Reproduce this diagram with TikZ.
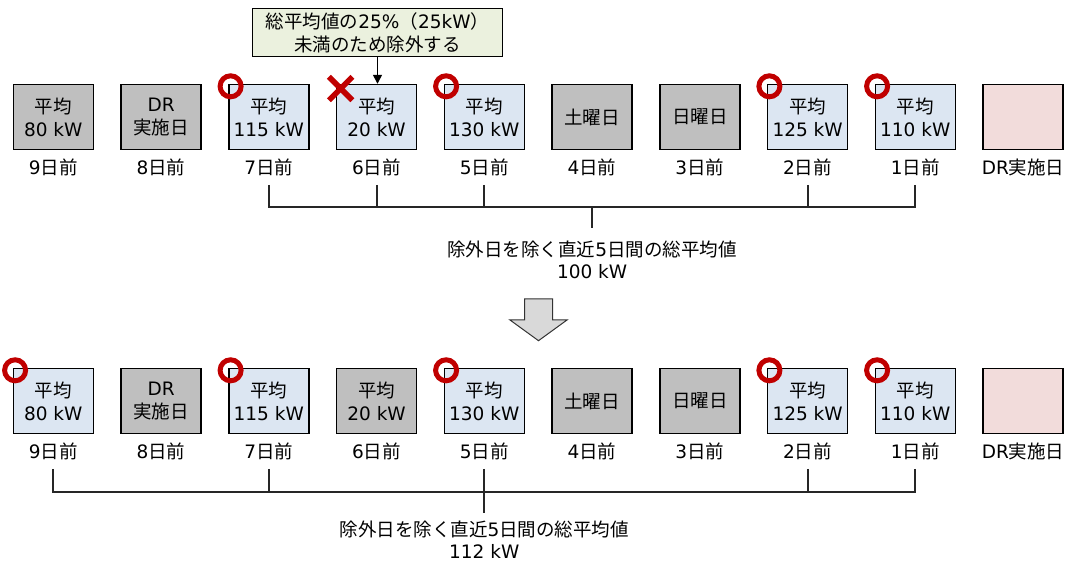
\documentclass[tikz,border=0pt]{standalone}
\usepackage{fontspec}
\setmainfont{DejaVu Sans}
\newfontfamily\jp{Noto Sans CJK JP}
\usepackage{tikz}
\usetikzlibrary{arrows.meta}
\definecolor{usedblue}{HTML}{DCE6F2}
\definecolor{skipgray}{HTML}{BFBFBF}
\definecolor{drpink}{HTML}{F2DCDB}
\definecolor{notefill}{HTML}{EBF1DE}
\definecolor{markred}{HTML}{C00000}
\definecolor{arrowgray}{HTML}{D9D9D9}
\newcommand{\daysize}{\fontsize{18.5}{23}\selectfont}

\begin{document}
\begin{tikzpicture}[x=1pt, y=1pt,
  daybox/.style={draw=black, line width=1.4pt, minimum width=80pt, minimum height=65pt, inner sep=0pt, align=center, font=\daysize},
  usedday/.style={daybox, fill=usedblue},
  skipday/.style={daybox, fill=skipgray},
  drday/.style={daybox, fill=drpink},
  daylabel/.style={font=\daysize, inner sep=0pt},
  sumtext/.style={font=\fontsize{18.5}{22}\selectfont\jp, inner sep=0pt, align=center, anchor=north},
  notebox/.style={draw=black, line width=1.4pt, fill=notefill, minimum width=250pt, minimum height=48pt, inner sep=0pt, align=center, font=\daysize\jp},
  bracket/.style={draw=black!85, line width=2pt},
  okmark/.style={draw=markred, line width=5pt},
  ngmark/.style={draw=markred, line width=5.5pt},
  downarrow/.style={fill=arrowgray, draw=black!80, line width=1pt, line join=miter}]
  \useasboundingbox (0,0) rectangle (1072,564);
  % before: days with the low day removed
  \node[skipday] (t9) at (53.3,447) {{\jp 平均}\\80 kW};
  \node[skipday] (t8) at (161.1,447) {DR\\{\jp 実施日}};
  \node[usedday] (t7) at (268.8,447) {{\jp 平均}\\115 kW};
  \node[usedday] (t6) at (376.6,447) {{\jp 平均}\\20 kW};
  \node[usedday] (t5) at (484.3,447) {{\jp 平均}\\130 kW};
  \node[skipday] (t4) at (592.1,447) {\jp 土曜日};
  \node[skipday] (t3) at (699.8,447) {\jp 日曜日};
  \node[usedday] (t2) at (807.6,447) {{\jp 平均}\\125 kW};
  \node[usedday] (t1) at (915.3,447) {{\jp 平均}\\110 kW};
  \node[drday] (t0) at (1023.1,447) {};
  \node[daylabel] (t9l) at ([yshift=-17pt]t9.south) {9{\jp 日前}};
  \node[daylabel] (t8l) at ([yshift=-17pt]t8.south) {8{\jp 日前}};
  \node[daylabel] (t7l) at ([yshift=-17pt]t7.south) {7{\jp 日前}};
  \node[daylabel] (t6l) at ([yshift=-17pt]t6.south) {6{\jp 日前}};
  \node[daylabel] (t5l) at ([yshift=-17pt]t5.south) {5{\jp 日前}};
  \node[daylabel] (t4l) at ([yshift=-17pt]t4.south) {4{\jp 日前}};
  \node[daylabel] (t3l) at ([yshift=-17pt]t3.south) {3{\jp 日前}};
  \node[daylabel] (t2l) at ([yshift=-17pt]t2.south) {2{\jp 日前}};
  \node[daylabel] (t1l) at ([yshift=-17pt]t1.south) {1{\jp 日前}};
  \node[daylabel] (t0l) at ([yshift=-17pt]t0.south) {DR{\jp 実施日}};
  \draw[okmark] ([shift={(2.5,-2.5)}]t7.north west) circle[radius=10.5pt];
  \draw[okmark] ([shift={(2.5,-2.5)}]t5.north west) circle[radius=10.5pt];
  \draw[okmark] ([shift={(2.5,-2.5)}]t2.north west) circle[radius=10.5pt];
  \draw[okmark] ([shift={(2.5,-2.5)}]t1.north west) circle[radius=10.5pt];
  \draw[ngmark] ([shift={(-7,7)}]t6.north west) -- ([shift={(16.5,-16.5)}]t6.north west);
  \draw[ngmark] ([shift={(-7,-16.5)}]t6.north west) -- ([shift={(16.5,7)}]t6.north west);
  \node[notebox] (note) at (377.5,531.5) {{\jp 総平均値の}{\rmfamily 25\%}（{\rmfamily 25kW}）\\未満のため除外する};
  \draw[line width=1.4pt, -{Triangle[length=9pt,width=9pt]}] (note.south) -- (note.south |- t6.north);
  \coordinate (tbar) at (592.1,357.3);
  \draw[bracket] ([yshift=-9pt]t7l.south) |- (tbar);
  \draw[bracket] ([yshift=-9pt]t1l.south) |- (tbar);
  \draw[bracket] ([yshift=-9pt]t6l.south) -- (t6l |- tbar);
  \draw[bracket] ([yshift=-9pt]t5l.south) -- (t5l |- tbar);
  \draw[bracket] ([yshift=-9pt]t2l.south) -- (t2l |- tbar);
  \node[sumtext] (tsum) at (592.1,323) {除外日を除く直近{\rmfamily 5}日間の総平均値\\{\rmfamily 100 kW}};
  \draw[bracket] (tbar) -- ([yshift=13pt]tsum.north);
  % shift down
  \draw[downarrow] (524.5,265) -- (552.5,265) -- (552.5,244) -- (567,244) -- (538.5,223.3) -- (510,244) -- (524.5,244) -- cycle;
  % after: five earliest valid days
  \node[usedday] (b9) at (53.3,163) {{\jp 平均}\\80 kW};
  \node[skipday] (b8) at (161.1,163) {DR\\{\jp 実施日}};
  \node[usedday] (b7) at (268.8,163) {{\jp 平均}\\115 kW};
  \node[skipday] (b6) at (376.6,163) {{\jp 平均}\\20 kW};
  \node[usedday] (b5) at (484.3,163) {{\jp 平均}\\130 kW};
  \node[skipday] (b4) at (592.1,163) {\jp 土曜日};
  \node[skipday] (b3) at (699.8,163) {\jp 日曜日};
  \node[usedday] (b2) at (807.6,163) {{\jp 平均}\\125 kW};
  \node[usedday] (b1) at (915.3,163) {{\jp 平均}\\110 kW};
  \node[drday] (b0) at (1023.1,163) {};
  \node[daylabel] (b9l) at ([yshift=-17pt]b9.south) {9{\jp 日前}};
  \node[daylabel] (b8l) at ([yshift=-17pt]b8.south) {8{\jp 日前}};
  \node[daylabel] (b7l) at ([yshift=-17pt]b7.south) {7{\jp 日前}};
  \node[daylabel] (b6l) at ([yshift=-17pt]b6.south) {6{\jp 日前}};
  \node[daylabel] (b5l) at ([yshift=-17pt]b5.south) {5{\jp 日前}};
  \node[daylabel] (b4l) at ([yshift=-17pt]b4.south) {4{\jp 日前}};
  \node[daylabel] (b3l) at ([yshift=-17pt]b3.south) {3{\jp 日前}};
  \node[daylabel] (b2l) at ([yshift=-17pt]b2.south) {2{\jp 日前}};
  \node[daylabel] (b1l) at ([yshift=-17pt]b1.south) {1{\jp 日前}};
  \node[daylabel] (b0l) at ([yshift=-17pt]b0.south) {DR{\jp 実施日}};
  \draw[okmark] ([shift={(2.5,-2.5)}]b9.north west) circle[radius=10.5pt];
  \draw[okmark] ([shift={(2.5,-2.5)}]b7.north west) circle[radius=10.5pt];
  \draw[okmark] ([shift={(2.5,-2.5)}]b5.north west) circle[radius=10.5pt];
  \draw[okmark] ([shift={(2.5,-2.5)}]b2.north west) circle[radius=10.5pt];
  \draw[okmark] ([shift={(2.5,-2.5)}]b1.north west) circle[radius=10.5pt];
  \coordinate (bbar) at (484.3,72.3);
  \draw[bracket] ([yshift=-9pt]b9l.south) |- (bbar);
  \draw[bracket] ([yshift=-9pt]b1l.south) |- (bbar);
  \draw[bracket] ([yshift=-9pt]b7l.south) -- (b7l |- bbar);
  \draw[bracket] ([yshift=-9pt]b5l.south) -- (b5l |- bbar);
  \draw[bracket] ([yshift=-9pt]b2l.south) -- (b2l |- bbar);
  \node[sumtext] (bsum) at (484.3,43) {除外日を除く直近{\rmfamily 5}日間の総平均値\\{\rmfamily 112 kW}};
  \draw[bracket] (bbar) -- ([yshift=8.3pt]bsum.north);
\end{tikzpicture}
\end{document}
